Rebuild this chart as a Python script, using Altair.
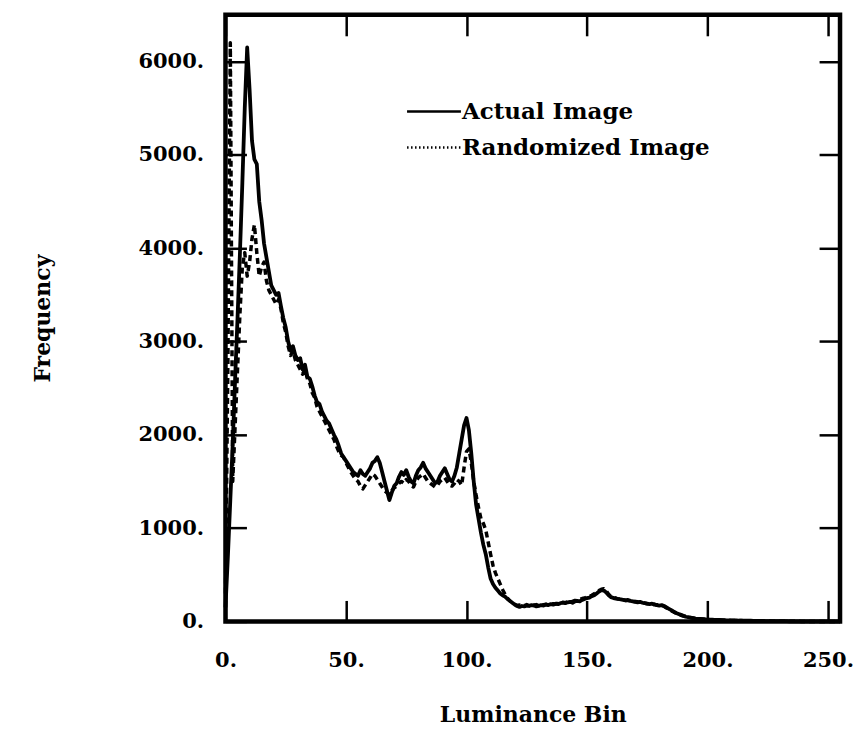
import altair as alt
import pandas as pd

# ---- data ----
actual = [
    150, 700, 1300, 1900, 2600, 3250, 3950, 4700, 5500, 6150,
    5700, 5150, 4950, 4900, 4500, 4300, 4050, 3900, 3750, 3600,
    3550, 3500, 3520, 3380, 3250, 3150, 3000, 2900, 2950, 2850,
    2800, 2820, 2700, 2750, 2620, 2600, 2520, 2420, 2350, 2330,
    2250, 2200, 2150, 2120, 2060, 2000, 1950, 1880, 1800, 1760,
    1720, 1680, 1640, 1600, 1580, 1560, 1620, 1580, 1560, 1600,
    1640, 1700, 1720, 1760, 1700, 1600, 1500, 1400, 1300, 1380,
    1450, 1480, 1550, 1600, 1570, 1620, 1550, 1500, 1480, 1560,
    1620, 1650, 1700, 1640, 1600, 1560, 1520, 1480, 1500, 1560,
    1600, 1640, 1580, 1520, 1500, 1560, 1650, 1800, 1950, 2100,
    2180, 2050, 1800, 1500, 1250, 1100, 950, 820, 720, 580,
    460, 400, 360, 330, 300, 280, 265, 240, 220, 200,
    180, 165, 155, 165, 160, 170, 165, 175, 170, 160,
    165, 175, 170, 180, 175, 185, 180, 190, 185, 195,
    200, 195, 205, 210, 200, 215, 220, 215, 230, 240,
    250, 255, 270, 280, 300, 320, 335, 330, 310, 280,
    260, 250, 245, 240, 235, 230, 225, 230, 220, 215,
    210, 205, 210, 200, 195, 190, 185, 190, 180, 175,
    170, 175, 165, 150, 135, 120, 105, 90, 80, 70,
    60, 50, 45, 40, 35, 30, 28, 26, 24, 22,
    20, 19, 18, 17, 16, 15, 14, 13, 12, 12,
    11, 10, 10, 9, 9, 8, 8, 7, 7, 6,
    6, 5, 5, 5, 4, 4, 4, 3, 3, 3,
    2, 2, 2, 2, 1, 1, 1, 1, 1, 0,
    0, 0, 0, 0, 0, 0, 0, 0, 0, 0,
    0, 0, 0, 0, 0, 0,
]

randomized = [
    300, 2800, 6200, 1500, 2100, 2700, 3300, 3800, 3950, 3700,
    3850, 4100, 4250, 3950, 3700, 3800, 3850, 3650, 3550, 3500,
    3450, 3400, 3450, 3350, 3200, 3100, 2950, 2850, 2900, 2800,
    2750, 2700, 2650, 2700, 2600, 2550, 2450, 2400, 2300, 2250,
    2200, 2150, 2100, 2050, 2000, 1950, 1880, 1820, 1780, 1760,
    1700, 1650, 1600, 1560, 1520, 1500, 1450, 1420, 1460, 1500,
    1540, 1580, 1560, 1520, 1480, 1440, 1400, 1380, 1360, 1400,
    1430, 1450, 1480, 1500, 1480, 1520, 1500, 1460, 1440, 1500,
    1540, 1560, 1580, 1540, 1500, 1480, 1460, 1440, 1460, 1500,
    1520, 1540, 1500, 1460, 1450, 1480, 1520, 1500, 1460, 1650,
    1820, 1850, 1700, 1500, 1350, 1220, 1100, 1050, 980, 850,
    720, 600, 520, 460, 400, 340, 290, 250, 220, 200,
    185, 170, 175, 165, 170, 180, 170, 165, 175, 180,
    170, 165, 180, 185, 175, 180, 190, 185, 195, 190,
    205, 200, 210, 205, 215, 225, 220, 235, 245, 250,
    260, 270, 280, 295, 310, 330, 345, 350, 325, 290,
    265, 255, 250, 240, 240, 235, 225, 225, 220, 210,
    215, 210, 200, 205, 195, 190, 190, 180, 185, 175,
    180, 170, 160, 145, 130, 115, 100, 88, 78, 66,
    58, 52, 46, 40, 36, 32, 29, 27, 25, 22,
    21, 19, 18, 17, 16, 15, 14, 13, 12, 12,
    11, 10, 10, 9, 9, 8, 8, 7, 7, 6,
    6, 5, 5, 5, 4, 4, 4, 3, 3, 3,
    2, 2, 2, 2, 1, 1, 1, 1, 1, 0,
    0, 0, 0, 0, 0, 0, 0, 0, 0, 0,
    0, 0, 0, 0, 0, 0,
]

x_ticks = [0, 50, 100, 150, 200, 250]
y_ticks = [0, 1000, 2000, 3000, 4000, 5000, 6000]
legend_labels = ["Actual Image", "Randomized Image"]

bins = list(range(len(actual)))
df_a = pd.DataFrame({"bin": bins, "freq": actual})
df_r = pd.DataFrame({"bin": bins[:len(randomized)], "freq": randomized})

FONT = "DejaVu Serif"
xs = alt.Scale(domain=[0, 255], nice=False, zero=False)
ys = alt.Scale(domain=[0, 6500], nice=False)

axis_common = dict(
    grid=False, domain=False, tickColor="black", tickWidth=2.5, tickSize=21,
    offset=-21, labelFont=FONT, labelFontWeight="bold", labelFontSize=21,
    labelColor="black", titleFont=FONT, titleFontWeight="bold",
    titleFontSize=22, titleColor="black",
)

x_bottom = alt.Axis(orient="bottom", values=x_ticks, labelExpr="datum.value + '.'",
                    labelPadding=28, title="Luminance Bin", titlePadding=34,
                    labelFlush=False, labelOverlap=False, **axis_common)
y_left = alt.Axis(orient="left", values=y_ticks, labelExpr="datum.value + '.'",
                  labelPadding=22, title="Frequency", titlePadding=84,
                  labelFlush=False, labelOverlap=False, **axis_common)
x_top = alt.Axis(orient="top", values=x_ticks, labels=False, title=None, **axis_common)
y_right = alt.Axis(orient="right", values=y_ticks, labels=False, title=None, **axis_common)

line_r = alt.Chart(df_r).mark_line(
    color="black", strokeWidth=3.5, strokeDash=[6, 4], strokeJoin="round"
).encode(
    x=alt.X("bin:Q", scale=xs, axis=x_top),
    y=alt.Y("freq:Q", scale=ys, axis=y_right),
)

line_a = alt.Chart(df_a).mark_line(
    color="black", strokeWidth=3.8, strokeJoin="round"
).encode(
    x=alt.X("bin:Q", scale=xs, axis=x_bottom),
    y=alt.Y("freq:Q", scale=ys, axis=y_left),
)

# legend (drawn in pixel space inside the plot)
leg_df = pd.DataFrame({"label": legend_labels})
leg_rule_a = alt.Chart(leg_df.iloc[[0]]).mark_rule(color="black", strokeWidth=2.5).encode(
    x=alt.value(182), x2=alt.value(236), y=alt.value(97))
leg_rule_r = alt.Chart(leg_df.iloc[[1]]).mark_rule(
    color="black", strokeWidth=2.5, strokeDash=[1.5, 2.5]).encode(
    x=alt.value(182), x2=alt.value(236), y=alt.value(133))
leg_text_a = alt.Chart(leg_df.iloc[[0]]).mark_text(
    font=FONT, fontWeight="bold", fontSize=23, align="left", baseline="middle", color="black"
).encode(x=alt.value(237), y=alt.value(97), text="label:N")
leg_text_r = alt.Chart(leg_df.iloc[[1]]).mark_text(
    font=FONT, fontWeight="bold", fontSize=23, align="left", baseline="middle", color="black"
).encode(x=alt.value(237), y=alt.value(133), text="label:N")

chart = alt.layer(
    line_r, line_a, leg_rule_a, leg_rule_r, leg_text_a, leg_text_r
).resolve_axis(
    x="independent", y="independent"
).properties(
    width=616, height=608,
    autosize=alt.AutoSizeParams(type="none"),
    padding={"left": 218, "top": 6, "right": 13, "bottom": 110},
    background="white",
).configure_view(
    stroke="black", strokeWidth=4.5
)

chart.save("out.html", embed_options={"renderer": "svg", "actions": False})
